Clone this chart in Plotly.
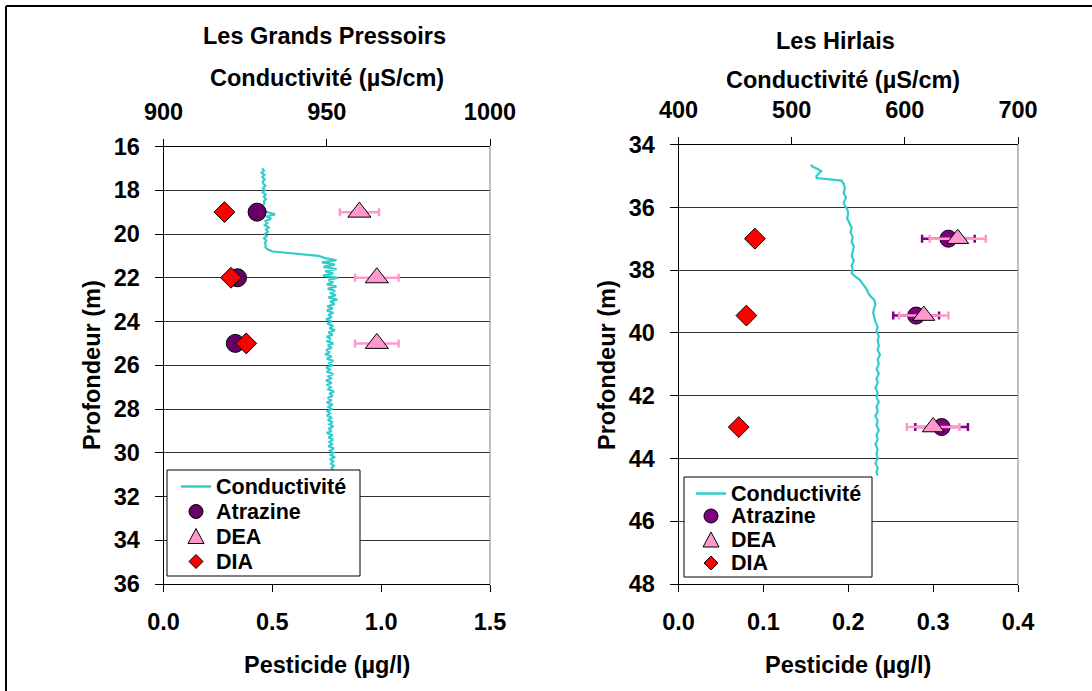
import plotly.graph_objects as go

W, H = 1092, 691
FONT = "Liberation Sans"

# ---------------- Data: Les Grands Pressoirs ----------------
gp_depth_pts = [19.0, 22.0, 25.0]
gp_atrazine = [0.43, 0.34, 0.33]
gp_dea = [0.90, 0.98, 0.98]
gp_dea_err = [0.09, 0.10, 0.10]
gp_dia = [0.28, 0.31, 0.38]

gp_cond_depth = [
    17.0, 17.1, 17.2, 17.3, 17.4, 17.5, 17.6, 17.7, 17.8, 17.9,
    18.0, 18.1, 18.2, 18.3, 18.4, 18.5, 18.6, 18.7, 18.8, 18.9,
    19.0, 19.1, 19.2, 19.3, 19.4, 19.5, 19.6, 19.7, 19.8, 19.9,
    20.0, 20.1, 20.2, 20.3, 20.4, 20.5, 20.6, 20.7, 20.8, 20.9,
    21.0, 21.1, 21.2, 21.3, 21.4, 21.5, 21.6, 21.7, 21.8, 21.9,
    22.0, 22.1, 22.2, 22.3, 22.4, 22.5, 22.6, 22.7, 22.8, 22.9,
    23.0, 23.1, 23.2, 23.3, 23.4, 23.5, 23.6, 23.7, 23.8, 23.9,
    24.0, 24.1, 24.2, 24.3, 24.4, 24.5, 24.6, 24.7, 24.8, 24.9,
    25.0, 25.1, 25.2, 25.3, 25.4, 25.5, 25.6, 25.7, 25.8, 25.9,
    26.0, 26.1, 26.2, 26.3, 26.4, 26.5, 26.6, 26.7, 26.8, 26.9,
    27.0, 27.1, 27.2, 27.3, 27.4, 27.5, 27.6, 27.7, 27.8, 27.9,
    28.0, 28.1, 28.2, 28.3, 28.4, 28.5, 28.6, 28.7, 28.8, 28.9,
    29.0, 29.1, 29.2, 29.3, 29.4, 29.5, 29.6, 29.7, 29.8, 29.9,
    30.0, 30.1, 30.2, 30.3, 30.4, 30.5, 30.6, 30.7, 30.8,
]
gp_cond = [
    930.2, 930.8, 930.0, 930.9, 930.3, 931.0, 930.4, 930.6, 931.2, 930.5,
    931.0, 930.4, 931.3, 930.7, 931.4, 930.8, 930.9, 930.3, 930.1, 930.6,
    931.8, 934.2, 931.5, 933.0, 931.2, 931.8, 931.0, 932.2, 931.4, 932.0,
    931.0, 931.6, 930.8, 931.5, 931.0, 931.3, 931.2, 931.8, 933.5, 940.0,
    947.5, 949.5, 953.0, 948.5, 952.5, 949.0, 953.0, 949.5, 952.0, 948.8,
    953.5, 950.5, 952.0, 950.0, 953.0, 950.3, 952.5, 951.0, 952.8, 950.5,
    953.2, 951.0, 952.5, 950.2, 951.8, 950.0, 952.0, 950.5, 951.5, 949.8,
    951.5, 950.2, 952.0, 950.8, 952.5, 950.5, 951.8, 950.0, 951.2, 950.0,
    952.0, 950.3, 951.5, 949.8, 951.0, 949.5, 951.5, 950.0, 952.0, 950.5,
    951.8, 949.8, 951.0, 950.0, 952.0, 950.5, 951.3, 949.8, 951.5, 950.2,
    951.2, 950.5, 952.2, 950.8, 951.8, 950.3, 951.5, 950.0, 951.8, 950.5,
    951.5, 950.2, 951.0, 950.0, 951.6, 950.3, 951.8, 950.8, 952.0, 950.5,
    951.5, 950.0, 951.8, 950.5, 952.0, 950.8, 951.6, 950.5, 952.2, 951.0,
    952.0, 951.2, 952.5, 951.0, 952.0, 951.3, 952.2, 951.5, 951.8,
]

# ---------------- Data: Les Hirlais ----------------
hi_depth_pts = [37.0, 39.45, 43.0]
hi_atrazine = [0.318, 0.280, 0.310]
hi_atrazine_err = [0.031, 0.027, 0.031]
hi_dea = [0.329, 0.289, 0.300]
hi_dea_err = [0.033, 0.029, 0.031]
hi_dia = [0.090, 0.080, 0.071]

hi_cond_depth = [
    34.65, 34.72, 34.78, 34.85, 34.92, 35.0, 35.07, 35.12, 35.15, 35.25,
    35.4, 35.55, 35.7, 35.85, 35.95, 36.05, 36.2, 36.35, 36.5, 36.65,
    36.8, 36.95, 37.1, 37.25, 37.4, 37.55, 37.7, 37.85, 38.0, 38.1,
    38.2, 38.3, 38.45, 38.6, 38.75, 38.85, 38.95, 39.1, 39.2, 39.35,
    39.5, 39.65, 39.8, 39.95, 40.1, 40.25, 40.4, 40.55, 40.7, 40.85,
    41.0, 41.15, 41.3, 41.45, 41.6, 41.75, 41.9, 42.05, 42.2, 42.35,
    42.5, 42.65, 42.8, 42.95, 43.1, 43.25, 43.4, 43.55, 43.7, 43.85,
    44.0, 44.15, 44.3, 44.45, 44.55,
]
hi_cond = [
    517, 519, 523, 526, 524, 522, 522, 535, 544, 546,
    547, 546, 548, 546, 547, 549, 550, 549, 551, 553,
    552, 554, 553, 555, 554, 553, 555, 553, 554, 553,
    556, 560, 563, 566, 568, 570, 573, 574, 573, 572,
    573, 574, 576, 575, 577, 576, 577, 576, 578, 576,
    577, 575, 577, 575, 576, 574, 576, 575, 577, 575,
    576, 574, 576, 575, 577, 575, 576, 574, 576, 575,
    576, 574, 576, 575, 576,
]

# tick labels
gp_pest_ticks = [0.0, 0.5, 1.0, 1.5]
gp_cond_ticks = [900, 950, 1000]
gp_depth_ticks = [16, 18, 20, 22, 24, 26, 28, 30, 32, 34, 36]
hi_pest_ticks = [0.0, 0.1, 0.2, 0.3, 0.4]
hi_cond_ticks = [400, 500, 600, 700]
hi_depth_ticks = [34, 36, 38, 40, 42, 44, 46, 48]

legend_labels = ["Conductivité", "Atrazine", "DEA", "DIA"]

# ---------------- Colours ----------------
C_COND = "#33CCCC"
C_ATR_L = "#660066"
C_ATR_R = "#800080"
C_DEA = "#FF99CC"
C_DIA = "#FF0000"

fig = go.Figure()

# ---- Left panel
fig.add_trace(go.Scatter(x=gp_cond, y=gp_cond_depth, mode="lines", name=legend_labels[0],
                         line=dict(color=C_COND, width=2.2), xaxis="x", yaxis="y"))
fig.add_trace(go.Scatter(x=gp_atrazine, y=gp_depth_pts, mode="markers", name=legend_labels[1],
                         marker=dict(symbol="circle", size=18, color=C_ATR_L, line=dict(color="black", width=1)),
                         xaxis="x2", yaxis="y"))
fig.add_trace(go.Scatter(x=gp_dea, y=gp_depth_pts, mode="markers", name=legend_labels[2],
                         marker=dict(symbol="triangle-up", size=20, color=C_DEA, line=dict(color="black", width=1)),
                         error_x=dict(type="data", array=gp_dea_err, color=C_DEA, thickness=2.5, width=4),
                         xaxis="x2", yaxis="y"))
fig.add_trace(go.Scatter(x=gp_dia, y=gp_depth_pts, mode="markers", name=legend_labels[3],
                         marker=dict(symbol="diamond", size=16, color=C_DIA, line=dict(color="black", width=1)),
                         xaxis="x2", yaxis="y"))

# ---- Right panel
fig.add_trace(go.Scatter(x=hi_cond, y=hi_cond_depth, mode="lines", name=legend_labels[0],
                         line=dict(color=C_COND, width=2.2), xaxis="x3", yaxis="y2"))
fig.add_trace(go.Scatter(x=hi_atrazine, y=hi_depth_pts, mode="markers", name=legend_labels[1],
                         marker=dict(symbol="circle", size=17, color=C_ATR_R, line=dict(color="black", width=1)),
                         error_x=dict(type="data", array=hi_atrazine_err, color=C_ATR_R, thickness=2.5, width=4),
                         xaxis="x4", yaxis="y2"))
fig.add_trace(go.Scatter(x=hi_dea, y=hi_depth_pts, mode="markers", name=legend_labels[2],
                         marker=dict(symbol="triangle-up", size=19, color=C_DEA, line=dict(color="black", width=1)),
                         error_x=dict(type="data", array=hi_dea_err, color=C_DEA, thickness=2.5, width=4),
                         xaxis="x4", yaxis="y2"))
fig.add_trace(go.Scatter(x=hi_dia, y=hi_depth_pts, mode="markers", name=legend_labels[3],
                         marker=dict(symbol="diamond", size=16, color=C_DIA, line=dict(color="black", width=1)),
                         xaxis="x4", yaxis="y2"))

FS = 23.5
tickfont = dict(family=FONT, size=FS, color="black", weight="bold")


def px_x(p):
    return p / W


def px_y(p):
    return 1 - p / H


L_DOM_X = [px_x(163.5), px_x(490)]
L_DOM_Y = [px_y(584), px_y(146.5)]
R_DOM_X = [px_x(678.5), px_x(1018)]
R_DOM_Y = [px_y(584), px_y(144.5)]

common_x = dict(showline=True, linecolor="black", linewidth=1, ticks="outside", tickcolor="black",
                ticklen=7, showgrid=False, zeroline=False, tickfont=tickfont, fixedrange=True,
                automargin=False)
common_y = dict(showline=True, linecolor="black", linewidth=1, ticks="outside", tickcolor="black",
                ticklen=8, showgrid=True, gridcolor="#333333", gridwidth=1, zeroline=False,
                tickfont=tickfont, ticklabelstandoff=10, automargin=False)

fig.update_layout(
    template="none",
    width=W, height=H,
    margin=dict(l=0, r=0, t=0, b=0, pad=0),
    paper_bgcolor="white", plot_bgcolor="white",
    showlegend=False,
    xaxis=dict(domain=L_DOM_X, anchor="y", side="top", range=[900, 1000], tickvals=gp_cond_ticks,
               ticklabelstandoff=9, **common_x),
    xaxis2=dict(domain=L_DOM_X, anchor="y", overlaying="x", side="bottom", range=[0, 1.5],
                tickvals=gp_pest_ticks, tickformat=".1f", ticklabelstandoff=10, **common_x),
    yaxis=dict(domain=L_DOM_Y, anchor="x", range=[36, 16], tickvals=gp_depth_ticks, **common_y),
    xaxis3=dict(domain=R_DOM_X, anchor="y2", side="top", range=[400, 700], tickvals=hi_cond_ticks,
                ticklabelstandoff=9, **common_x),
    xaxis4=dict(domain=R_DOM_X, anchor="y2", overlaying="x3", side="bottom", range=[0, 0.4],
                tickvals=hi_pest_ticks, tickformat=".1f", ticklabelstandoff=10, **common_x),
    yaxis2=dict(domain=R_DOM_Y, anchor="x3", range=[48, 34], tickvals=hi_depth_ticks, **common_y),
)

tfont = dict(family=FONT, size=FS, color="black", weight="bold")
annots = [
    ("Les Grands Pressoirs", 324, 36, 0),
    ("Conductivité (µS/cm)", 327, 78, 0),
    ("Les Hirlais", 836, 41, 0),
    ("Conductivité (µS/cm)", 843, 80, 0),
    ("Pesticide (µg/l)", 327, 665, 0),
    ("Pesticide (µg/l)", 848, 665, 0),
    ("Profondeur (m)", 92, 365, -90),
    ("Profondeur (m)", 607, 365, -90),
]
for txt, ax_, ay_, rot in annots:
    fig.add_annotation(text=txt, x=px_x(ax_), y=px_y(ay_), xref="paper", yref="paper",
                       xanchor="center", yanchor="middle", showarrow=False, font=tfont, textangle=rot)

# right borders of the plot areas (grey) and outer frame
fig.add_shape(type="line", xref="x domain", yref="y domain", x0=1, x1=1, y0=0, y1=1,
              line=dict(color="#808080", width=1))
fig.add_shape(type="line", xref="x3 domain", yref="y2 domain", x0=1, x1=1, y0=0, y1=1,
              line=dict(color="#808080", width=1))
fig.add_shape(type="line", xref="paper", yref="paper", x0=px_x(6), x1=px_x(6), y0=0, y1=px_y(6),
              line=dict(color="black", width=2))
fig.add_shape(type="line", xref="paper", yref="paper", x0=px_x(6), x1=1, y0=px_y(6), y1=px_y(6),
              line=dict(color="black", width=2))


# ---- Legend boxes (drawn as decoration: box, key symbols, text)
def draw_legend(box, key_x, text_x, rows, atr_color):
    x0, y0, x1, y1 = box
    fig.add_shape(type="rect", xref="paper", yref="paper",
                  x0=px_x(x0), x1=px_x(x1), y0=px_y(y1), y1=px_y(y0),
                  line=dict(color="black", width=1), fillcolor="white", layer="above")
    r = 7
    # line key
    fig.add_shape(type="line", xref="paper", yref="paper",
                  x0=px_x(key_x - 15), x1=px_x(key_x + 15), y0=px_y(rows[0]), y1=px_y(rows[0]),
                  line=dict(color=C_COND, width=2.5), layer="above")
    # circle key
    fig.add_shape(type="circle", xref="paper", yref="paper",
                  x0=px_x(key_x - r), x1=px_x(key_x + r), y0=px_y(rows[1] + r), y1=px_y(rows[1] - r),
                  line=dict(color="black", width=1), fillcolor=atr_color, layer="above")
    # triangle key
    tri = "M {} {} L {} {} L {} {} Z".format(
        px_x(key_x), px_y(rows[2] - r - 1), px_x(key_x + r + 1), px_y(rows[2] + r),
        px_x(key_x - r - 1), px_y(rows[2] + r))
    fig.add_shape(type="path", xref="paper", yref="paper", path=tri,
                  line=dict(color="black", width=1), fillcolor=C_DEA, layer="above")
    # diamond key
    dia = "M {} {} L {} {} L {} {} L {} {} Z".format(
        px_x(key_x), px_y(rows[3] - r), px_x(key_x + r), px_y(rows[3]),
        px_x(key_x), px_y(rows[3] + r), px_x(key_x - r), px_y(rows[3]))
    fig.add_shape(type="path", xref="paper", yref="paper", path=dia,
                  line=dict(color="black", width=1), fillcolor=C_DIA, layer="above")
    for lab, ry in zip(legend_labels, rows):
        fig.add_annotation(text=lab, x=px_x(text_x), y=px_y(ry), xref="paper", yref="paper",
                           xanchor="left", yanchor="middle", showarrow=False,
                           font=dict(family=FONT, size=21.5, color="black", weight="bold"))


draw_legend((167, 470, 360, 576), 196, 214, [486.5, 511.5, 536.5, 561.5], C_ATR_L)
draw_legend((684, 477, 872, 577), 711, 729, [493.5, 516, 540, 563], C_ATR_R)

fig.write_html("out.html")
